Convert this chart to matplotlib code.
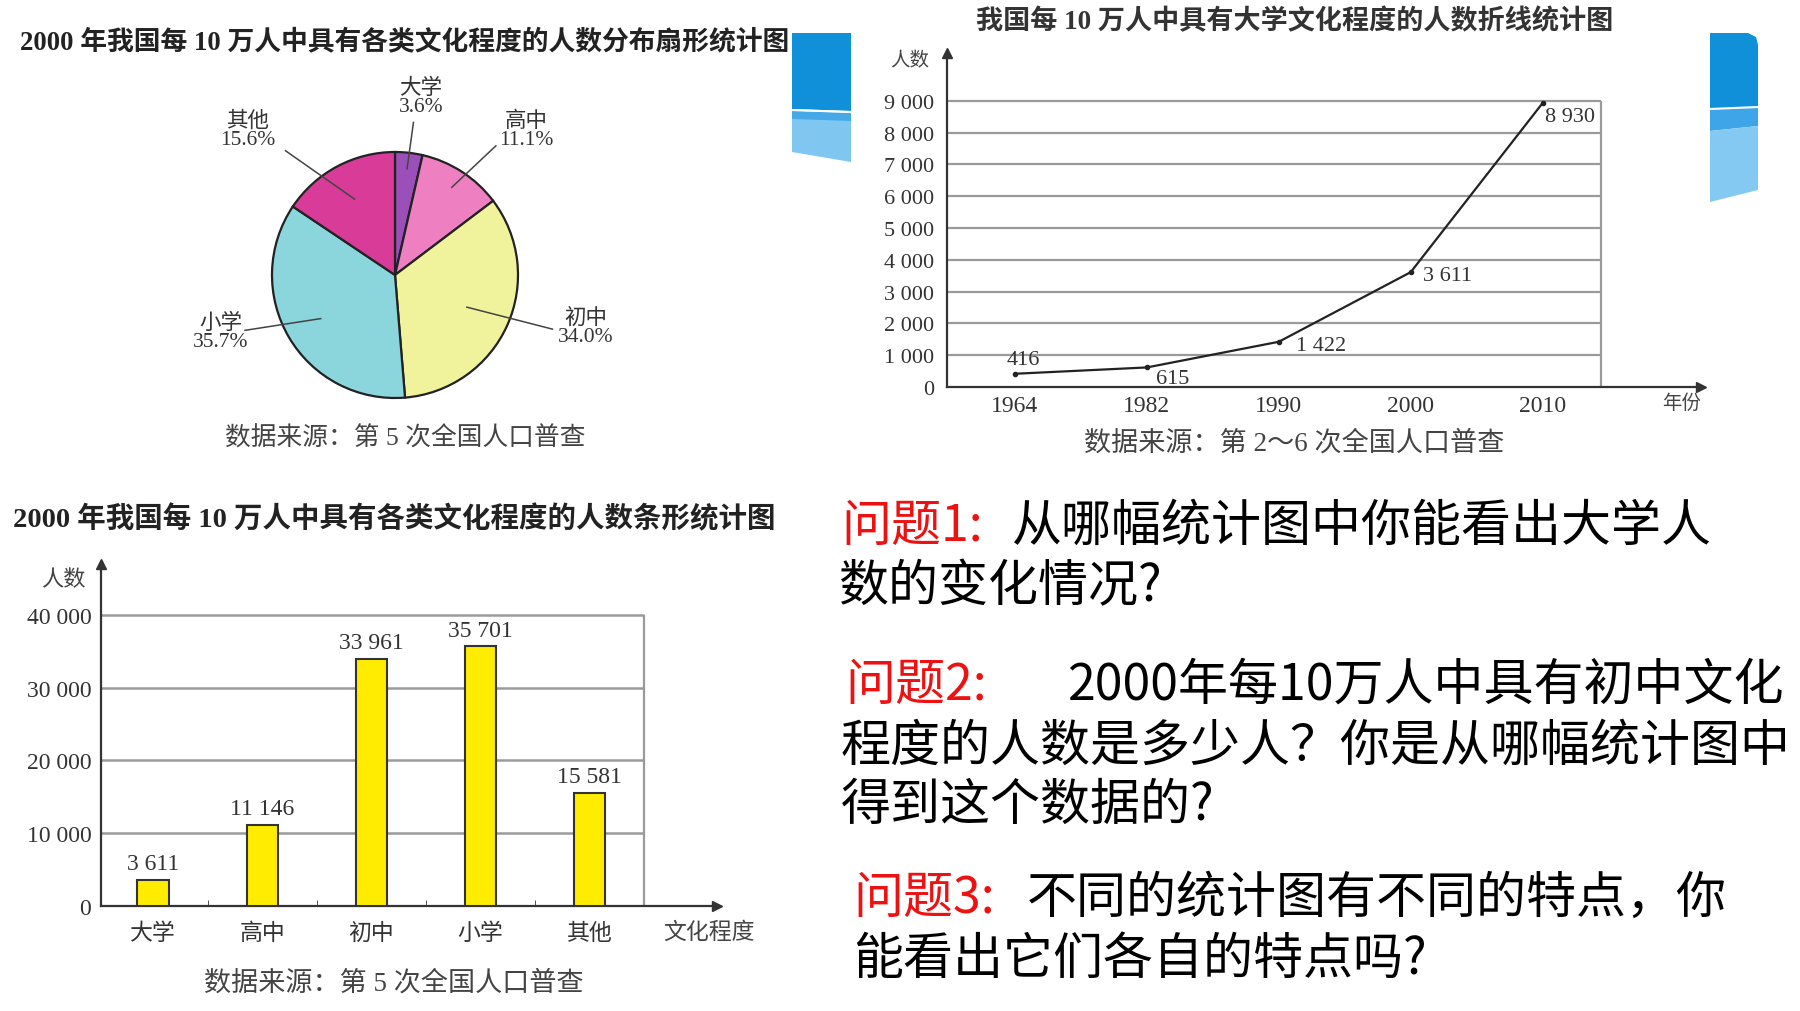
import matplotlib
matplotlib.use('Agg')
import matplotlib.pyplot as plt
from matplotlib.patches import Polygon
import numpy as np

plt.rcParams['font.family'] = ['Liberation Serif', 'Noto Sans CJK SC', 'DejaVu Sans']

# pie: 2000, share of each education level
pie_labels = ['大学', '高中', '初中', '小学', '其他']
pie_pcts = [3.6, 11.1, 34.0, 35.7, 15.6]
pie_colors = ['#9a50b8', '#ee80c2', '#f1f29c', '#8bd5dc', '#d93c98']

# line: college-level people per 100k
years = ['1964', '1982', '1990', '2000', '2010']
college = [416, 615, 1422, 3611, 8930]
line_yticks = [0, 1000, 2000, 3000, 4000, 5000, 6000, 7000, 8000, 9000]

# bar: 2000, people per 100k by level
bar_cats = ['大学', '高中', '初中', '小学', '其他']
bar_vals = [3611, 11146, 33961, 35701, 15581]
bar_yticks = [0, 10000, 20000, 30000, 40000]

W, H = 1800, 1012
fig = plt.figure(figsize=(18, 10.12), dpi=100)
fig.patch.set_facecolor('white')


def rect(x0, y0, x1, y1):
    return [x0 / W, 1 - y1 / H, (x1 - x0) / W, (y1 - y0) / H]


def ftext(x, y, s, **kw):
    kw.setdefault('ha', 'center')
    kw.setdefault('va', 'center')
    return fig.text(x / W, 1 - y / H, s, **kw)


def fmt(v):
    return f'{v:,}'.replace(',', ' ')


def arrows(ax):
    # arrow heads at the ends of the two axes
    ax.plot(1, 0, '>', color='#333', ms=7, transform=ax.transAxes, clip_on=False)
    ax.plot(0, 1, '^', color='#333', ms=7, transform=ax.transAxes, clip_on=False)


grid_c = '#9a9a9a'

# ---- decorative blue tabs
bg = fig.add_axes([0, 0, 1, 1])
bg.set_xlim(0, W)
bg.set_ylim(H, 0)
bg.axis('off')
bg.add_patch(Polygon([(792, 34), (851, 34), (851, 112), (792, 110)], closed=True, fc='#1190da', ec='none'))
bg.add_patch(Polygon([(792, 112), (851, 114), (851, 163), (792, 153)], closed=True, fc='#7fc7f1', ec='none'))
bg.add_patch(Polygon([(792, 112), (851, 114), (851, 122), (792, 120)], closed=True, fc='#45a9e8', ec='none'))
bg.plot([792, 851], [111, 113], color='white', lw=1.5)
bg.add_patch(Polygon([(1710, 34), (1748, 34), (1756, 38), (1758, 46), (1758, 108), (1710, 110)],
                     closed=True, fc='#1190da', ec='none'))
bg.add_patch(Polygon([(1710, 110), (1758, 108), (1758, 127), (1710, 132)], closed=True, fc='#3ea6e8', ec='none'))
bg.add_patch(Polygon([(1710, 132), (1758, 127), (1758, 191), (1710, 203)], closed=True, fc='#83c9f2', ec='none'))
bg.plot([1710, 1758], [110, 108], color='white', lw=1.5)

# ---- pie chart
ftext(405, 42, '2000 年我国每 10 万人中具有各类文化程度的人数分布扇形统计图',
      fontsize=19.3, fontweight='bold', color='#222')
axp = fig.add_axes(rect(195, 76, 595, 476))
axp.set_facecolor('none')
wedges, _ = axp.pie(pie_pcts, colors=pie_colors, startangle=90, counterclock=False,
                    wedgeprops=dict(edgecolor='#222', linewidth=1.6))
axp.set_xlim(-1.626, 1.626)
axp.set_ylim(-1.626, 1.626)
axp.set_aspect('equal')
axp.axis('off')
inner_r = [0.87, 0.85, 0.64, 0.70, 0.70]
outer_xy = [(0.15, 1.24), (0.82, 1.05), (1.28, -0.44), (-1.22, -0.45), (-0.89, 1.01)]
text_xy = [(0.21, 1.45), (1.07, 1.18), (1.55, -0.42), (-1.42, -0.46), (-1.20, 1.18)]
for w, lab, pct, r, oxy, txy in zip(wedges, pie_labels, pie_pcts, inner_r, outer_xy, text_xy):
    a = np.deg2rad((w.theta1 + w.theta2) / 2)
    axp.plot([r * np.cos(a), oxy[0]], [r * np.sin(a), oxy[1]], color='#444', lw=1.1, clip_on=False)
    axp.text(txy[0], txy[1], f'{lab}\n{pct:.1f}%', ha='center', va='center',
             fontsize=15.5, color='#333', linespacing=0.95)
ftext(405, 438, '数据来源：第 5 次全国人口普查', fontsize=18.5, color='#444')

# ---- line chart
ftext(1295, 22, '我国每 10 万人中具有大学文化程度的人数折线统计图',
      fontsize=19.5, fontweight='bold', color='#333')
axl = fig.add_axes(rect(947, 54, 1701, 388))
axl.set_facecolor('none')
xl = np.arange(len(years))
grid_right = 4.44
axl.set_xlim(-0.515, 5.2)
axl.set_ylim(0, 10500)
axl.hlines(line_yticks[1:], -0.515, grid_right, color=grid_c, lw=1.6)
axl.vlines(grid_right, 0, line_yticks[-1], color=grid_c, lw=1.6)
axl.plot(xl, college, color='#222', lw=1.6, marker='o', ms=3)
for s in ['top', 'right']:
    axl.spines[s].set_visible(False)
for s in ['left', 'bottom']:
    axl.spines[s].set_color('#333')
    axl.spines[s].set_linewidth(1.6)
arrows(axl)
axl.set_yticks(line_yticks)
axl.set_yticklabels([fmt(v) for v in line_yticks])
axl.set_xticks(xl)
axl.set_xticklabels(years)
axl.tick_params(length=0, labelsize=16, labelcolor='#333')
axl.tick_params(axis='y', pad=9)
axl.tick_params(axis='x', pad=6, labelsize=17)
offs = [((8, 14), 'center'), ((26, -11), 'center'), ((17, -4), 'left'), ((12, -3), 'left'), ((2, -14), 'left')]
for xi, v, (o, ha) in zip(xl, college, offs):
    axl.annotate(fmt(v), (xi, v), xytext=o, textcoords='offset pixels', ha=ha, va='center',
                 fontsize=16, color='#333')
ftext(910, 61, '人数', fontsize=14, color='#444')
ftext(1682, 404, '年份', fontsize=14, color='#444')
ftext(1294, 444, '数据来源：第 2～6 次全国人口普查', fontsize=19.5, color='#444')

# ---- bar chart
ftext(394, 519, '2000 年我国每 10 万人中具有各类文化程度的人数条形统计图',
      fontsize=20.5, fontweight='bold', color='#222')
axb = fig.add_axes(rect(101, 565, 717, 907))
axb.set_facecolor('none')
xb = np.arange(len(bar_cats))
grid_rb = 4.5
axb.set_xlim(-0.477, 5.17)
axb.set_ylim(0, 47000)
axb.hlines(bar_yticks[1:], -0.477, grid_rb, color=grid_c, lw=1.8)
axb.vlines(grid_rb, 0, bar_yticks[-1], color=grid_c, lw=1.6)
bars = axb.bar(xb, bar_vals, width=0.285, color='#ffec00', edgecolor='#333', linewidth=1.5, zorder=3)
for b, v in zip(bars, bar_vals):
    axb.annotate(fmt(v), (b.get_x() + b.get_width() / 2, v), xytext=(0, 16), textcoords='offset pixels',
                 ha='center', va='center', fontsize=17, color='#333')
for s in ['top', 'right']:
    axb.spines[s].set_visible(False)
for s in ['left', 'bottom']:
    axb.spines[s].set_color('#333')
    axb.spines[s].set_linewidth(1.6)
arrows(axb)
axb.set_yticks(bar_yticks)
axb.set_yticklabels([fmt(v) for v in bar_yticks])
axb.set_xticks(xb)
axb.set_xticklabels(bar_cats)
axb.set_xticks(xb[:-1] + 0.5, minor=True)
axb.tick_params(axis='x', which='minor', direction='in', length=4, color='#333')
axb.tick_params(which='major', length=0, labelsize=17, labelcolor='#333')
axb.tick_params(axis='y', pad=7)
axb.tick_params(axis='x', which='major', pad=12, labelsize=16.5)
ftext(63, 581, '人数', fontsize=16, color='#444')
ftext(709, 933, '文化程度', fontsize=16.5, color='#444')
ftext(394, 984, '数据来源：第 5 次全国人口普查', fontsize=19.5, color='#444')

# ---- questions
qf = dict(fontsize=36, family=['Noto Sans CJK SC'], ha='left')
red = '#ee1111'
ftext(841, 527, '问题1:', color=red, **qf)
ftext(1012, 527, '从哪幅统计图中你能看出大学人', color='black', **qf)
ftext(838, 587, '数的变化情况?', color='black', **qf)
ftext(845, 686, '问题2:', color=red, **qf)
ftext(1068, 686, '2000年每10万人中具有初中文化', color='black', **qf)
ftext(841, 747, '程度的人数是多少人？你是从哪幅统计图中', color='black', **qf)
ftext(841, 806, '得到这个数据的?', color='black', **qf)
ftext(853, 899, '问题3:', color=red, **qf)
ftext(1027, 899, '不同的统计图有不同的特点，你', color='black', **qf)
ftext(853, 960, '能看出它们各自的特点吗?', color='black', **qf)

fig.savefig('out.png', dpi=100, facecolor='white')
